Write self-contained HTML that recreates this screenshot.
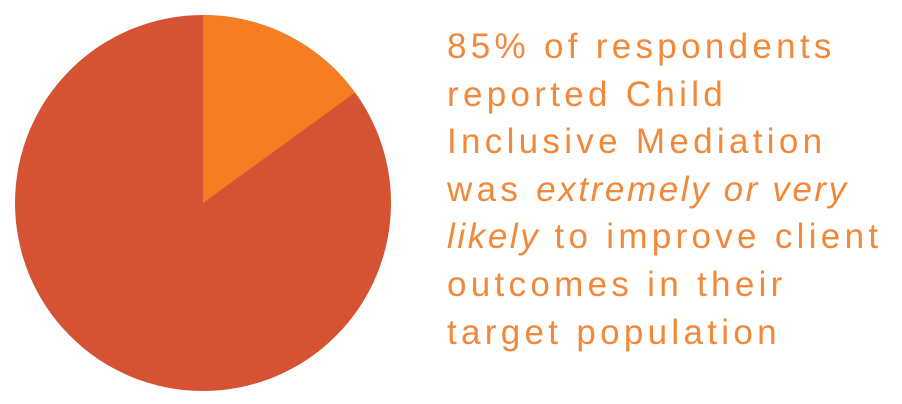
<!DOCTYPE html>
<html><head><meta charset="utf-8"><style>
html,body{margin:0;padding:0;background:#fff;width:902px;height:404px;overflow:hidden}
.t{position:absolute;left:447px;top:23px;font-family:"Liberation Sans",sans-serif;font-size:35px;line-height:47.6px;color:#F2883A;letter-spacing:4.3px;font-weight:normal;white-space:nowrap}
.t i{letter-spacing:2.6px}
</style></head><body>
<svg width="902" height="404" style="position:absolute;left:0;top:0">
<circle cx="203" cy="203" r="188" fill="#D55232"/>
<path d="M203,203 L203,15 A188,188 0 0 1 355.1,92.5 Z" fill="#F47E21"/>
</svg>
<div class="t">85% of respondents<br>reported Child<br>Inclusive Mediation<br>was <i>extremely or very</i><br><i>likely</i> to improve client<br>outcomes in their<br>target population</div>
</body></html>
